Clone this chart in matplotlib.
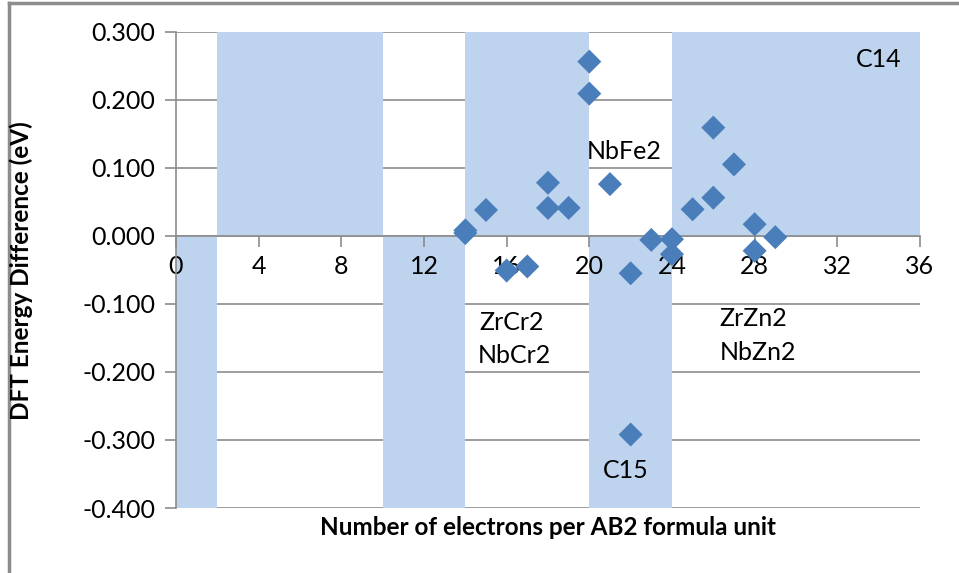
import numpy as np
import matplotlib.pyplot as plt
from matplotlib.lines import Line2D

plt.rcParams['font.family'] = ['Lato', 'DejaVu Sans']

# shaded stability regions (left edge, width, height)
region_left = [0, 2, 10, 14, 20, 24]
region_width = [2, 8, 4, 6, 4, 12]
region_height = [-0.4, 0.3, -0.4, 0.3, -0.4, 0.3]

# DFT energy difference vs electron count
electrons = [14, 14, 15, 16, 17, 18, 18, 19, 20, 20, 21, 22, 22,
             23, 24, 24, 25, 26, 26, 27, 28, 28, 29]
energy = [0.008, 0.004, 0.038, -0.051, -0.045, 0.078, 0.041, 0.041, 0.256, 0.209,
          0.076, -0.055, -0.292, -0.006, -0.005, -0.027, 0.039, 0.159, 0.056,
          0.105, 0.017, -0.022, -0.002]

# phase / compound annotations
labels = ['C14', 'NbFe2', 'ZrCr2', 'NbCr2', 'ZrZn2', 'NbZn2', 'C15']
label_x = [32.9, 19.9, 14.7, 14.6, 26.3, 26.3, 20.65]
label_y = [0.259, 0.124, -0.127, -0.176, -0.122, -0.172, -0.345]

xticks = np.arange(0, 37, 4)
yticks = np.round(np.arange(-0.4, 0.31, 0.1), 3)

fig = plt.figure(figsize=(9.59, 5.73), dpi=100)
ax = fig.add_axes([0.1835, 0.1134, 0.7758, 0.8313])

grey = '#8c8c8c'
ax.bar(region_left, region_height, width=region_width, align='edge',
       color='#bed3ee', zorder=1)
for y in yticks:
    ax.axhline(y, color=grey, lw=1.2, zorder=0.5)

ax.scatter(electrons, energy, marker='D', s=150, color='#4a7ebb',
           edgecolor='none', zorder=3)

for t, x, y in zip(labels, label_x, label_y):
    ax.text(x, y, t, fontsize=18, ha='left', va='center', zorder=4)

ax.set_xlim(0, 36)
ax.set_ylim(-0.4, 0.3)
ax.set_xticks(xticks)
ax.set_yticks(yticks)
ax.set_yticklabels(['%.3f' % (v + 0.0) if abs(v) > 1e-9 else '0.000' for v in yticks])
ax.set_xticklabels([str(v) for v in xticks])

for s in ['top', 'right']:
    ax.spines[s].set_visible(False)
ax.spines['bottom'].set_position(('data', 0))
ax.spines['bottom'].set_color(grey)
ax.spines['left'].set_color(grey)
ax.spines['bottom'].set_linewidth(1.2)
ax.spines['left'].set_linewidth(1.2)
ax.spines['bottom'].set_zorder(2)
ax.spines['left'].set_zorder(2)
ax.tick_params(axis='x', direction='out', length=8, color=grey, width=1.2,
               labelsize=18, pad=6)
ax.tick_params(axis='y', direction='out', length=8, color=grey, width=1.2,
               labelsize=18, pad=7)

fig.text(0.571, 0.080, 'Number of electrons per AB2 formula unit',
         fontsize=17.5, fontweight='bold', ha='center', va='center')
fig.text(0.022, 0.527, 'DFT Energy Difference (eV)', fontsize=17.5,
         fontweight='bold', ha='center', va='center', rotation=90)

# outer chart border (top and left edges)
fig.add_artist(Line2D([0.009, 1.0], [0.995, 0.995], color=grey, lw=2.5,
                      transform=fig.transFigure))
fig.add_artist(Line2D([0.009, 0.009], [0.0, 0.995], color=grey, lw=2.5,
                      transform=fig.transFigure))

fig.savefig('out.png', dpi=100, facecolor='white')
